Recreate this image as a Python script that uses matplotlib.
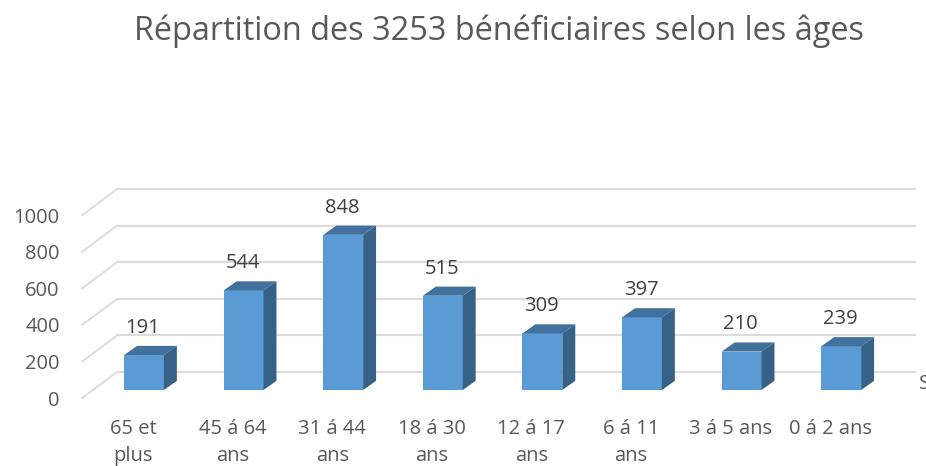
import matplotlib
matplotlib.use('Agg')
import matplotlib.pyplot as plt
from matplotlib.patches import Polygon
from matplotlib.transforms import ScaledTranslation

plt.rcParams['font.family'] = ['Open Sans', 'DejaVu Sans']

# data
categories = ['65 et\nplus', '45 á 64\nans', '31 á 44\nans', '18 á 30\nans',
              '12 á 17\nans', '6 á 11\nans', '3 á 5 ans', '0 á 2 ans']
values = [191, 544, 848, 515, 309, 397, 210, 239]
y_ticks = [0, 200, 400, 600, 800, 1000]
title = 'Répartition des 3253 bénéficiaires selon les âges'

# colors
front_col = '#5b9bd5'
top_col = '#41719c'
side_col = '#376288'
grid_col = '#dcdcdc'
text_col = '#595959'

# fake 3d depth, in data units
bar_w = 0.40
depth_x = 0.13
depth_y = 50
wall_left = -0.27
front_left = -0.62
wall_up = 98
front_down = -44

W, H = 926, 466
fig = plt.figure(figsize=(W / 100, H / 100), dpi=100)

# axes placed so that one category is 99.6 px and 1000 is 183 px
ax = fig.add_axes([82 / W, (H - 400) / H, (915 - 82) / W, (400 - 180) / H])
ax.set_xlim((82 - 144) / 99.6, (915 - 144) / 99.6)
ax.set_ylim(-10 / 0.183, 210 / 0.183)
for s in ax.spines.values():
    s.set_visible(False)

# grid lines on the back wall and the floor side
for v in y_ticks:
    ax.plot([wall_left, ax.get_xlim()[1]], [v + wall_up, v + wall_up],
            color=grid_col, lw=1.6, clip_on=False, zorder=1)
    ax.plot([front_left, wall_left], [v + front_down, v + wall_up],
            color=grid_col, lw=1.4, clip_on=False, zorder=1)

# bars
x = list(range(len(values)))
ax.bar(x, values, width=bar_w, color=front_col, zorder=3)
for xi, v in zip(x, values):
    l, r = xi - bar_w / 2, xi + bar_w / 2
    ax.add_patch(Polygon([(l, v), (r, v), (r + depth_x, v + depth_y), (l + depth_x, v + depth_y)],
                         color=top_col, zorder=3, lw=0))
    ax.add_patch(Polygon([(r, 0), (r + depth_x, depth_y), (r + depth_x, v + depth_y), (r, v)],
                         color=side_col, zorder=3, lw=0))
    ax.annotate(str(v), (xi - 0.01, v), xytext=(0, 19.5), textcoords='offset points',
                ha='center', va='center', fontsize=14.5, color='#404040')

# ticks
ax.set_yticks(y_ticks)
ax.set_xticks(x)
ax.set_xticklabels(categories, linespacing=1.45)
ax.tick_params(axis='both', length=0, labelsize=14.5, labelcolor=text_col)
ax.tick_params(axis='y', pad=16)
ax.tick_params(axis='x', pad=14)
for lab in ax.get_yticklabels():
    lab.set_transform(lab.get_transform() + ScaledTranslation(0, -8 / 100, fig.dpi_scale_trans))
for lab in ax.get_xticklabels():
    lab.set_transform(lab.get_transform() + ScaledTranslation(-11 / 100, 0, fig.dpi_scale_trans))

fig.text(499 / W, 1 - 31 / H, title, ha='center', va='center', fontsize=23.4, color=text_col)
# cut off legend text at the right edge
fig.text(919 / W, 1 - 384 / H, 'S', ha='left', va='center', fontsize=14.5, color=text_col)

fig.savefig('out.png', dpi=100)
